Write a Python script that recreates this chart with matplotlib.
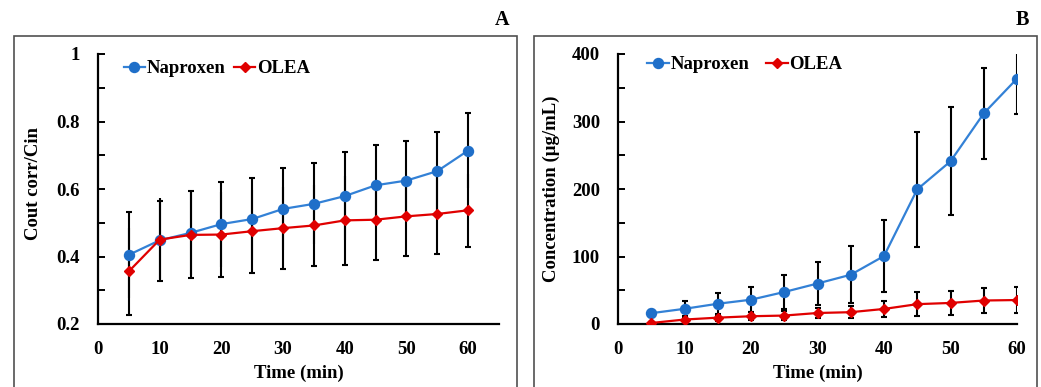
import matplotlib
matplotlib.use("Agg")
import numpy as np
import matplotlib.pyplot as plt
from matplotlib.patches import Rectangle
from matplotlib.ticker import MultipleLocator

# ---- DATA ----
time_min = [5, 10, 15, 20, 25, 30, 35, 40, 45, 50, 55, 60]

# panel A : Cout corr / Cin
nap_ratio = [0.405, 0.448, 0.470, 0.496, 0.511, 0.541, 0.556, 0.579, 0.611, 0.625, 0.653, 0.714]
nap_ratio_err = [0.128, 0.115, 0.124, 0.126, 0.122, 0.122, 0.120, 0.131, 0.120, 0.116, 0.116, 0.110]
olea_ratio = [0.356, 0.450, 0.464, 0.465, 0.475, 0.484, 0.492, 0.507, 0.509, 0.519, 0.526, 0.537]
olea_ratio_err = [0.129, 0.122, 0.127, 0.125, 0.123, 0.122, 0.119, 0.133, 0.119, 0.117, 0.118, 0.108]

# panel B : concentration (ug/mL)
nap_conc = [16.0, 22.5, 30.0, 36.0, 47.4, 60.0, 73.0, 100.7, 199.5, 241.0, 312.0, 363.5]
nap_conc_err = [5.0, 11.0, 16.5, 18.5, 25.0, 32.0, 42.0, 54.0, 85.0, 80.0, 68.0, 52.0]
olea_conc = [1.5, 6.6, 9.4, 11.5, 12.5, 16.3, 17.5, 22.3, 29.4, 31.2, 34.8, 35.5]
olea_conc_err = [1.5, 4.0, 5.0, 6.0, 6.5, 8.0, 8.5, 11.4, 18.0, 18.0, 19.0, 19.0]

BLUE = "#1f6fc9"
BLUE_LINE = "#3381d6"
RED = "#e00000"
FONT = "Liberation Serif"

plt.rcParams["font.family"] = FONT
plt.rcParams["font.weight"] = "bold"

fig = plt.figure(figsize=(10.41, 3.87), dpi=100)

# ---- panel frames ----
for x0, x1 in [(14, 517), (534, 1037)]:
    fig.patches.append(Rectangle((x0 / 1041, -0.1), (x1 - x0) / 1041, 1.1 - 36 / 387,
                                 transform=fig.transFigure, fill=False,
                                 edgecolor="#505050", linewidth=1.2))

fig.text(502 / 1041, 1 - 20 / 387, "A", ha="center", va="center", fontsize=14.5, fontweight="bold")
fig.text(1022 / 1041, 1 - 20 / 387, "B", ha="center", va="center", fontsize=14.5, fontweight="bold")


def draw_panel(ax, nap, nap_err, olea, olea_err, xmax, ylim, major, minor, ylabel,
               leg_x, leg_y, col_space, outer_caps_only):
    cap = 0 if outer_caps_only else 2.5
    ax.errorbar(time_min, nap, yerr=nap_err, fmt="none", ecolor="black",
                elinewidth=1.5, capsize=cap, capthick=1.5, zorder=2)
    ax.errorbar(time_min, olea, yerr=olea_err, fmt="none", ecolor="black",
                elinewidth=1.5, capsize=cap, capthick=1.5, zorder=2)
    if outer_caps_only:
        # caps only on the top of Naproxen and the bottom of OLEA
        ax.plot(time_min, np.array(nap) + np.array(nap_err), ls="none", marker="_",
                markersize=5, markeredgewidth=1.5, color="black", zorder=2)
        ax.plot(time_min, np.array(olea) - np.array(olea_err), ls="none", marker="_",
                markersize=5, markeredgewidth=1.5, color="black", zorder=2)
    ax.plot(time_min, nap, color=BLUE_LINE, linewidth=1.6, marker="o", markersize=7.2,
            markerfacecolor=BLUE, markeredgecolor=BLUE, label="Naproxen", zorder=3)
    ax.plot(time_min, olea, color=RED, linewidth=1.6, marker="D", markersize=4.8,
            markerfacecolor=RED, markeredgecolor=RED, label="OLEA", zorder=3)

    ax.set_xlim(0, xmax)
    ax.set_ylim(*ylim)
    ax.xaxis.set_major_locator(MultipleLocator(10))
    ax.yaxis.set_major_locator(MultipleLocator(major))
    ax.yaxis.set_minor_locator(MultipleLocator(minor))

    for side in ["top", "right"]:
        ax.spines[side].set_visible(False)
    ax.spines["left"].set_linewidth(1.6)
    ax.spines["bottom"].set_linewidth(1.6)

    ax.tick_params(axis="y", which="both", direction="in", length=5, width=1.4, pad=13, labelsize=13.5)
    ax.tick_params(axis="x", which="both", length=0, pad=12, labelsize=13.5)
    for lbl in ax.get_xticklabels() + ax.get_yticklabels():
        lbl.set_fontweight("bold")

    ax.set_xlabel("Time (min)", fontsize=13.5, fontweight="bold", labelpad=5)
    ax.set_ylabel(ylabel, fontsize=13.5, fontweight="bold")

    ax.legend(loc="upper left", bbox_to_anchor=(leg_x, leg_y), ncol=2, frameon=False,
              handlelength=1.15, handletextpad=0.08, columnspacing=col_space,
              prop={"family": FONT, "weight": "bold", "size": 13.5}, borderaxespad=0)


ax_a = fig.add_axes([98 / 1041, 1 - 324 / 387, 401 / 1041, 270 / 387])
draw_panel(ax_a, nap_ratio, nap_ratio_err, olea_ratio, olea_ratio_err,
           65, (0.2, 1.0), 0.2, 0.1, "Cout corr/Cin", 0.045, 1.005, 0.45, True)
ax_a.set_yticks([0.2, 0.4, 0.6, 0.8, 1.0])
ax_a.set_yticklabels(["0.2", "0.4", "0.6", "0.8", "1"])
ax_a.yaxis.set_label_coords(-0.14, 0.52)

ax_b = fig.add_axes([618 / 1041, 1 - 324 / 387, 399 / 1041, 270 / 387])
draw_panel(ax_b, nap_conc, nap_conc_err, olea_conc, olea_conc_err,
           60, (0, 400), 100, 50, "Concentration (\u03bcg/mL)", 0.055, 1.02, 0.9, False)
ax_b.yaxis.set_label_coords(-0.145, 0.5)

fig.savefig("out.png", dpi=100)
